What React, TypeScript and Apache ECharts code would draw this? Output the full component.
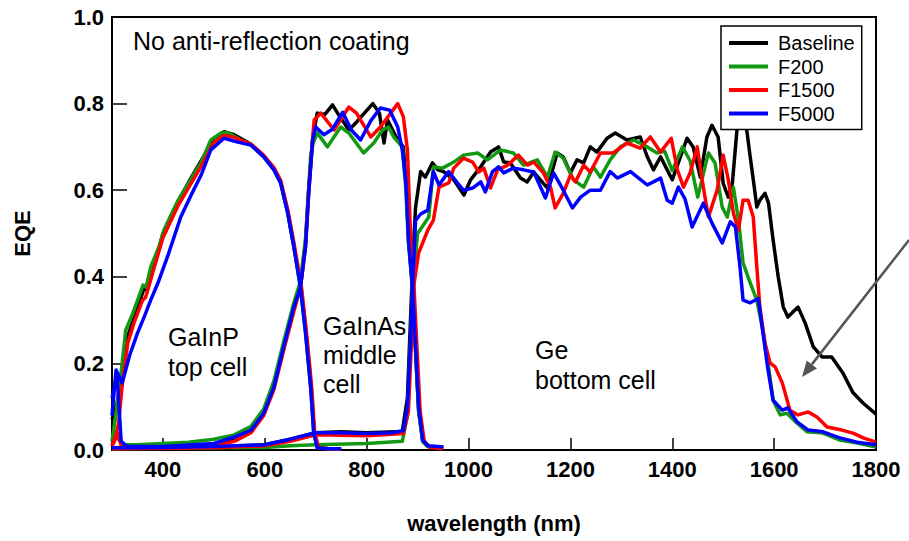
import React, { useEffect, useRef } from "react";
import * as echarts from "echarts";

const seriesNames = ["Baseline", "F200", "F1500", "F5000"];
const seriesColors = ["#000000", "#119911", "#ff0000", "#0000ff"];
const xTickValues = [400, 600, 800, 1000, 1200, 1400, 1600, 1800];

// Baseline (black)
const baselineTop = [[300,0.07],[310,0.11],[320,0.17],[330,0.26],[345,0.31],[362,0.37],[370,0.372],[380,0.415],[400,0.5],[430,0.575],[455,0.628],[470,0.658],[480,0.678],[500,0.72],[520,0.735],[540,0.728],[573,0.706],[598,0.68],[618,0.65],[631,0.62],[645,0.55],[657,0.472],[671,0.376],[681,0.27],[691,0.146],[697,0.04],[704,0.005],[725,0.003],[750,0.002]];
const baselineMid = [[300,0.005],[320,0.006],[400,0.008],[500,0.012],[540,0.025],[573,0.045],[598,0.085],[618,0.15],[637,0.24],[657,0.33],[670,0.376],[680,0.48],[686,0.6],[694,0.72],[703,0.778],[718,0.775],[733,0.797],[745,0.774],[765,0.739],[780,0.757],[812,0.8],[825,0.778],[834,0.709],[841,0.762],[861,0.716],[872,0.7],[878,0.6],[883,0.48],[890,0.376],[896,0.23],[902,0.09],[910,0.02],[920,0.008],[950,0.004]];
const baselineBot = [[300,0.003],[400,0.005],[500,0.007],[600,0.012],[650,0.025],[700,0.04],[750,0.042],[800,0.04],[870,0.043],[880,0.12],[886,0.3],[891,0.45],[896,0.56],[906,0.643],[915,0.63],[929,0.663],[940,0.647],[951,0.643],[971,0.624],[991,0.589],[1004,0.624],[1024,0.654],[1043,0.688],[1059,0.7],[1069,0.665],[1082,0.663],[1102,0.628],[1115,0.619],[1128,0.642],[1141,0.624],[1155,0.605],[1174,0.686],[1186,0.677],[1200,0.64],[1213,0.67],[1226,0.663],[1239,0.7],[1252,0.688],[1272,0.72],[1288,0.732],[1311,0.716],[1337,0.723],[1351,0.677],[1363,0.647],[1377,0.677],[1400,0.624],[1429,0.72],[1441,0.7],[1455,0.63],[1468,0.723],[1478,0.75],[1490,0.723],[1500,0.616],[1510,0.584],[1518,0.616],[1527,0.739],[1537,0.8],[1547,0.732],[1553,0.677],[1560,0.616],[1566,0.561],[1572,0.577],[1582,0.593],[1589,0.57],[1598,0.485],[1608,0.4],[1618,0.33],[1627,0.307],[1647,0.33],[1661,0.293],[1677,0.238],[1694,0.215],[1713,0.215],[1735,0.178],[1755,0.132],[1775,0.108],[1800,0.083]];

// F200 (green)
const f200Top = [[300,0.02],[308,0.085],[318,0.18],[327,0.277],[341,0.316],[361,0.381],[367,0.376],[376,0.423],[392,0.469],[402,0.508],[429,0.575],[455,0.625],[475,0.664],[494,0.716],[514,0.732],[527,0.733],[553,0.716],[573,0.704],[598,0.677],[618,0.647],[631,0.617],[645,0.547],[657,0.469],[670,0.376],[680,0.27],[690,0.146],[696,0.04],[703,0.005],[725,0.003],[750,0.002]];
const f200Mid = [[300,0.02],[310,0.03],[320,0.012],[350,0.012],[400,0.015],[450,0.018],[500,0.025],[540,0.035],[573,0.055],[598,0.095],[618,0.16],[637,0.25],[657,0.34],[670,0.39],[680,0.49],[686,0.6],[690,0.68],[695,0.709],[703,0.732],[723,0.7],[749,0.746],[765,0.732],[794,0.686],[814,0.709],[831,0.739],[843,0.746],[853,0.723],[870,0.7],[877,0.6],[882,0.48],[890,0.37],[896,0.23],[902,0.09],[910,0.02],[920,0.008],[950,0.005]];
const f200Bot = [[300,0.003],[400,0.004],[500,0.005],[600,0.006],[650,0.01],[700,0.012],[800,0.015],[870,0.02],[880,0.08],[886,0.25],[890,0.376],[900,0.5],[922,0.538],[931,0.654],[949,0.651],[971,0.665],[990,0.681],[1018,0.686],[1037,0.67],[1063,0.693],[1088,0.686],[1108,0.658],[1135,0.67],[1155,0.63],[1170,0.688],[1186,0.674],[1206,0.624],[1226,0.607],[1245,0.654],[1259,0.63],[1278,0.67],[1298,0.7],[1324,0.716],[1351,0.7],[1370,0.686],[1385,0.69],[1400,0.645],[1420,0.7],[1435,0.668],[1450,0.584],[1471,0.686],[1484,0.663],[1498,0.561],[1508,0.538],[1520,0.607],[1530,0.531],[1539,0.432],[1553,0.386],[1566,0.346],[1578,0.277],[1588,0.201],[1598,0.115],[1612,0.081],[1625,0.085],[1645,0.062],[1665,0.042],[1696,0.039],[1729,0.023],[1763,0.016],[1800,0.007]];

// F1500 (red)
const f1500Top = [[300,0.01],[305,0.02],[313,0.062],[320,0.15],[331,0.247],[343,0.293],[360,0.346],[366,0.353],[380,0.41],[400,0.49],[430,0.565],[455,0.615],[475,0.655],[500,0.71],[520,0.727],[540,0.722],[573,0.706],[598,0.68],[618,0.652],[631,0.623],[645,0.555],[657,0.48],[672,0.376],[682,0.27],[692,0.146],[698,0.04],[706,0.005],[725,0.003],[750,0.002]];
const f1500Mid = [[300,0.01],[310,0.04],[320,0.005],[400,0.005],[500,0.01],[540,0.02],[573,0.04],[598,0.08],[618,0.14],[637,0.23],[657,0.32],[670,0.376],[680,0.47],[686,0.59],[694,0.72],[697,0.762],[710,0.778],[736,0.739],[765,0.792],[780,0.778],[808,0.723],[827,0.746],[861,0.8],[872,0.77],[880,0.693],[886,0.5],[893,0.376],[899,0.23],[905,0.09],[913,0.02],[925,0.006],[950,0.003]];
const f1500Bot = [[300,0.003],[400,0.004],[500,0.005],[600,0.01],[650,0.02],[700,0.035],[800,0.033],[872,0.038],[882,0.09],[888,0.25],[892,0.376],[902,0.455],[920,0.508],[931,0.531],[942,0.607],[961,0.617],[971,0.651],[990,0.674],[1008,0.665],[1020,0.642],[1030,0.651],[1043,0.605],[1057,0.647],[1077,0.658],[1098,0.681],[1116,0.658],[1128,0.665],[1147,0.64],[1161,0.607],[1170,0.559],[1186,0.593],[1200,0.635],[1210,0.619],[1226,0.658],[1239,0.642],[1259,0.686],[1284,0.686],[1311,0.709],[1337,0.697],[1357,0.723],[1377,0.688],[1398,0.72],[1410,0.647],[1422,0.607],[1435,0.64],[1449,0.7],[1461,0.607],[1471,0.538],[1488,0.6],[1500,0.681],[1510,0.624],[1520,0.547],[1530,0.508],[1539,0.577],[1549,0.577],[1559,0.538],[1566,0.423],[1572,0.33],[1582,0.247],[1592,0.201],[1602,0.192],[1616,0.155],[1631,0.092],[1647,0.081],[1667,0.088],[1684,0.076],[1704,0.053],[1733,0.046],[1755,0.039],[1775,0.028],[1800,0.018]];

// F5000 (blue)
const f5000Top = [[300,0.08],[308,0.185],[320,0.155],[335,0.22],[350,0.27],[363,0.307],[376,0.346],[390,0.385],[410,0.45],[435,0.538],[455,0.588],[475,0.635],[494,0.693],[520,0.72],[547,0.711],[573,0.704],[598,0.677],[618,0.647],[631,0.617],[645,0.547],[657,0.469],[670,0.376],[680,0.27],[690,0.146],[696,0.04],[703,0.005],[725,0.003],[750,0.003]];
const f5000Mid = [[300,0.12],[310,0.17],[318,0.02],[330,0.008],[400,0.008],[500,0.015],[540,0.03],[573,0.046],[598,0.085],[618,0.146],[637,0.238],[657,0.33],[670,0.376],[680,0.469],[686,0.59],[694,0.716],[700,0.746],[716,0.728],[732,0.74],[753,0.78],[770,0.739],[788,0.716],[808,0.76],[827,0.79],[845,0.785],[861,0.746],[870,0.693],[877,0.62],[882,0.485],[890,0.376],[896,0.238],[902,0.1],[910,0.023],[920,0.01],[951,0.007]];
const f5000Bot = [[300,0.005],[350,0.005],[400,0.006],[500,0.008],[600,0.012],[650,0.025],[700,0.04],[750,0.04],[800,0.038],[850,0.04],[872,0.045],[880,0.1],[886,0.25],[890,0.376],[896,0.53],[906,0.545],[920,0.554],[931,0.643],[942,0.612],[961,0.643],[978,0.617],[990,0.6],[1008,0.605],[1024,0.619],[1033,0.596],[1047,0.643],[1059,0.654],[1069,0.64],[1088,0.651],[1108,0.647],[1128,0.642],[1151,0.582],[1167,0.64],[1186,0.6],[1204,0.559],[1220,0.584],[1239,0.6],[1259,0.6],[1278,0.643],[1292,0.628],[1318,0.643],[1351,0.612],[1377,0.628],[1390,0.577],[1400,0.57],[1412,0.607],[1425,0.58],[1439,0.515],[1461,0.57],[1478,0.524],[1498,0.478],[1514,0.527],[1524,0.515],[1533,0.423],[1539,0.346],[1553,0.34],[1569,0.35],[1578,0.27],[1588,0.185],[1598,0.115],[1616,0.092],[1627,0.097],[1645,0.065],[1667,0.046],[1696,0.042],[1729,0.028],[1763,0.018],[1800,0.012]];

const seriesData = [
  [baselineTop, baselineMid, baselineBot],
  [f200Top, f200Mid, f200Bot],
  [f1500Top, f1500Mid, f1500Bot],
  [f5000Top, f5000Mid, f5000Bot],
];

const FONT = "'Liberation Sans', Arial, Helvetica, sans-serif";

export default function App() {
  const ref = useRef<HTMLDivElement>(null);
  useEffect(() => {
    document.body.style.margin = "0";
    if (!ref.current) return;
    const chart = echarts.init(ref.current, null, { renderer: "svg" });
    const series: any[] = [];
    seriesNames.forEach((name, i) => {
      seriesData[i].forEach((d) => {
        series.push({
          type: "line",
          name,
          data: d,
          showSymbol: false,
          symbol: "none",
          color: seriesColors[i],
          lineStyle: { width: 3.5, color: seriesColors[i], join: "round" },
          z: 2 + i,
        });
      });
    });
    const tip = [802, 377];
    const start = [909, 240];
    const dx = tip[0] - start[0];
    const dy = tip[1] - start[1];
    const len = Math.sqrt(dx * dx + dy * dy);
    const ux = dx / len, uy = dy / len;
    const headLen = 16, headHalf = 6.5;
    const bx = tip[0] - ux * headLen, by = tip[1] - uy * headLen;
    const px = -uy * headHalf, py = ux * headHalf;
    chart.setOption({
      animation: false,
      backgroundColor: "#ffffff",
      grid: {
        left: 112, right: 33, top: 17, bottom: 91,
        show: true, borderColor: "#000", borderWidth: 2, backgroundColor: "transparent",
      },
      legend: {
        data: seriesNames,
        orient: "vertical",
        left: 721, top: 26,
        padding: [7, 7, 6, 8],
        itemGap: 3.5,
        itemWidth: 39,
        itemHeight: 4,
        icon: "rect",
        borderColor: "#000",
        borderWidth: 1.5,
        backgroundColor: "#ffffff",
        z: 20,
        textStyle: { fontFamily: FONT, fontSize: 20, color: "#000", lineHeight: 20, padding: [0, 0, 0, 5] },
      },
      xAxis: {
        type: "value",
        min: 300, max: 1800,
        name: "wavelength (nm)",
        nameLocation: "middle",
        nameGap: 62,
        nameTextStyle: { fontFamily: FONT, fontSize: 22, fontWeight: "bold", color: "#000" },
        axisLine: { show: true, lineStyle: { color: "#000", width: 2 } },
        axisTick: { show: true, inside: true, length: 12, customValues: xTickValues, lineStyle: { color: "#000", width: 1.5 } },
        axisLabel: { customValues: xTickValues, margin: 8, fontFamily: FONT, fontSize: 22, fontWeight: "bold", color: "#000", formatter: (v: number) => String(v) },
        splitLine: { show: false },
      },
      yAxis: {
        type: "value",
        min: 0, max: 1, interval: 0.2,
        name: "EQE",
        nameLocation: "middle",
        nameGap: 79,
        nameTextStyle: { fontFamily: FONT, fontSize: 22, fontWeight: "bold", color: "#000" },
        axisLine: { show: true, lineStyle: { color: "#000", width: 2 } },
        axisTick: { show: true, inside: true, length: 15, lineStyle: { color: "#000", width: 1.5 } },
        axisLabel: { margin: 8, fontFamily: FONT, fontSize: 22, fontWeight: "bold", color: "#000", formatter: (v: number) => v.toFixed(1) },
        splitLine: { show: false },
      },
      graphic: [
        { type: "text", z: 100, style: { text: "No anti-reflection coating", x: 133, y: 41, fontFamily: FONT, fontSize: 25, fill: "#000", verticalAlign: "middle" } },
        { type: "text", z: 100, style: { text: "GaInP\ntop cell", x: 168, y: 322, fontFamily: FONT, fontSize: 25, lineHeight: 30, fill: "#000", verticalAlign: "top" } },
        { type: "text", z: 100, style: { text: "GaInAs\nmiddle\ncell", x: 323, y: 311, fontFamily: FONT, fontSize: 25, lineHeight: 29, fill: "#000", verticalAlign: "top" } },
        { type: "text", z: 100, style: { text: "Ge\nbottom cell", x: 535, y: 335, fontFamily: FONT, fontSize: 25, lineHeight: 30, fill: "#000", verticalAlign: "top" } },
        { type: "line", z: 100, shape: { x1: start[0], y1: start[1], x2: bx, y2: by }, style: { stroke: "#555555", lineWidth: 2.5 } },
        { type: "polygon", z: 100, shape: { points: [[tip[0], tip[1]], [bx + px, by + py], [bx - px, by - py]] }, style: { fill: "#555555" } },
      ],
      series,
    });
    return () => chart.dispose();
  }, []);
  return <div ref={ref} style={{ width: 909, height: 541 }} />;
}
